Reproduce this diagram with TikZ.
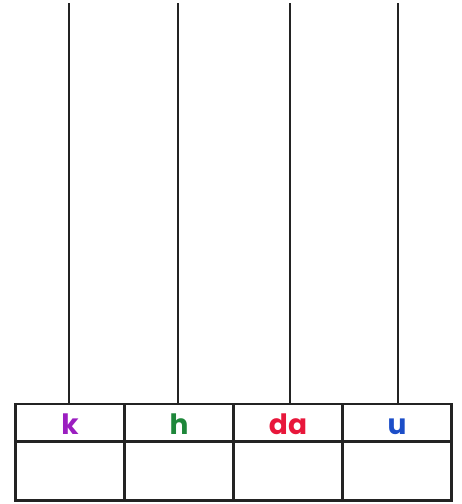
\documentclass[tikz,border=0pt]{standalone}
\usepackage{fontspec}
\setmainfont{Poppins}
\usetikzlibrary{positioning}

\definecolor{kpurple}{RGB}{155,30,192}
\definecolor{hgreen}{RGB}{30,135,58}
\definecolor{dared}{RGB}{232,23,59}
\definecolor{ublue}{RGB}{28,78,200}
\definecolor{ink}{RGB}{35,35,35}

\begin{document}
\begin{tikzpicture}[x=1pt,y=-1pt,
  cell/.style={draw=ink, line width=2.6pt, outer sep=0pt, inner sep=0pt,
    minimum width=109pt, minimum height=37.5pt,
    text height=23pt, text depth=0pt, font=\fontsize{28}{28}\selectfont\bfseries},
  blank/.style={cell, minimum height=59pt},
  rod/.style={draw=ink, line width=2.6pt}]
  \useasboundingbox (0,0) rectangle (462,504);

  % Label row
  \node[cell, text=kpurple] (k) at (70,422.75) {k};
  \node[cell, text=hgreen, right=0pt of k] (h) {h};
  \node[cell, text=dared, right=0pt of h] (da) {da};
  \node[cell, text=ublue, right=0pt of da] (u) {u};

  % Empty row
  \node[blank, below=0pt of k] (k box) {};
  \node[blank, below=0pt of h] (h box) {};
  \node[blank, below=0pt of da] (da box) {};
  \node[blank, below=0pt of u] (u box) {};

  % Rods
  \coordinate (k top) at (69,3);
  \coordinate (h top) at (178,3);
  \coordinate (da top) at (290,3);
  \coordinate (u top) at (398,3);
  \draw[rod] (k top) -- (k top |- k.north);
  \draw[rod] (h top) -- (h top |- h.north);
  \draw[rod] (da top) -- (da top |- da.north);
  \draw[rod] (u top) -- (u top |- u.north);

\end{tikzpicture}
\end{document}
